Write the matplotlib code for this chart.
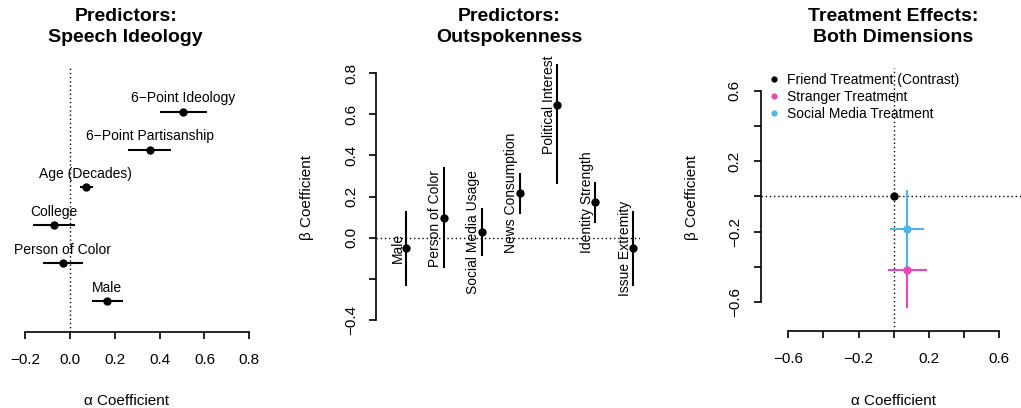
import numpy as np
import matplotlib
matplotlib.use("Agg")
import matplotlib.pyplot as plt
from matplotlib.lines import Line2D

plt.rcParams["font.family"] = ["Liberation Sans", "DejaVu Sans"]

# speech ideology predictors (alpha), listed top to bottom
ideo_names = ["6\u2212Point Ideology", "6\u2212Point Partisanship", "Age (Decades)",
              "College", "Person of Color", "Male"]
ideo_est = [0.506, 0.356, 0.071, -0.071, -0.033, 0.164]
ideo_lo = [0.400, 0.260, 0.045, -0.164, -0.122, 0.097]
ideo_hi = [0.610, 0.450, 0.104, 0.024, 0.060, 0.235]

# outspokenness predictors (beta), left to right
out_names = ["Male", "Person of Color", "Social Media Usage", "News Consumption",
             "Political Interest", "Identity Strength", "Issue Extremity"]
out_est = [-0.052, 0.094, 0.026, 0.216, 0.647, 0.172, -0.052]
out_lo = [-0.233, -0.149, -0.089, 0.114, 0.260, 0.073, -0.233]
out_hi = [0.130, 0.342, 0.143, 0.316, 0.845, 0.272, 0.130]

# treatment effects on both dimensions (friend treatment is the contrast)
treat_names = ["Friend Treatment (Contrast)", "Stranger Treatment", "Social Media Treatment"]
treat_colors = ["black", "#E64BB4", "#4FB4E6"]
treat_alpha = [0.0, 0.077, 0.077]
treat_alpha_lo = [np.nan, -0.035, -0.022]
treat_alpha_hi = [np.nan, 0.190, 0.171]
treat_beta = [0.0, -0.419, -0.185]
treat_beta_lo = [np.nan, -0.630, -0.400]
treat_beta_hi = [np.nan, -0.220, 0.035]

alpha_ticks = [-0.2, 0.0, 0.2, 0.4, 0.6, 0.8]
beta_ticks = [-0.4, -0.2, 0.0, 0.2, 0.4, 0.6, 0.8]
treat_ticks = [-0.6, -0.4, -0.2, 0.0, 0.2, 0.4, 0.6]

W, H = 1021, 408
DOTS = (0, (1, 2))
fig = plt.figure(figsize=(W / 100, H / 100), dpi=100)


def add_panel(left, top, right, bottom):
    return fig.add_axes([left / W, 1 - bottom / H, (right - left) / W, (bottom - top) / H])


def fmt(v):
    return f"{v:.1f}".replace("-", "\u2212")


def style(ax, keep):
    for side in ["top", "right", "left", "bottom"]:
        ax.spines[side].set_visible(side in keep)
        ax.spines[side].set_linewidth(1.2)
    ax.tick_params(direction="out", length=5.3, width=1.2, labelsize=11)
    ax.patch.set_alpha(0)


# ---- speech ideology
ax1 = add_panel(14, 68, 256, 331.5)
ypos = np.arange(1, len(ideo_names) + 1)
ax1.axvline(0, color="black", lw=1, ls=DOTS)
ax1.hlines(ypos, ideo_lo, ideo_hi, color="black", lw=1.5)
ax1.plot(ideo_est, ypos, "o", color="black", ms=5)
for name, x, y in zip(ideo_names, ideo_est, ypos):
    ax1.annotate(name, (x, y), xytext=(0, 6.7), textcoords="offset points",
                 ha="center", va="baseline", fontsize=10)
ax1.set_xlim(-0.25, 0.830)
ax1.set_ylim(6.80, -0.153)
ax1.set_xticks(alpha_ticks, [fmt(v) for v in alpha_ticks])
ax1.set_yticks([])
style(ax1, ["bottom"])
ax1.spines["bottom"].set_bounds(-0.2, 0.8)
ax1.tick_params(axis="x", pad=10)

# ---- outspokenness
ax2 = add_panel(376, 62, 640, 332)
xpos = np.arange(1, len(out_names) + 1)
ax2.axhline(0, color="black", lw=1, ls=DOTS)
ax2.vlines(xpos, out_lo, out_hi, color="black", lw=1.5)
ax2.plot(xpos, out_est, "o", color="black", ms=5)
for name, x, y in zip(out_names, xpos, out_est):
    ax2.annotate(name, (x, y), xytext=(-3.2, 0), textcoords="offset points",
                 rotation=90, rotation_mode="anchor", ha="center", va="baseline", fontsize=10)
ax2.set_xlim(0.207, 7.185)
ax2.set_ylim(-0.4587, 0.8546)
ax2.set_yticks(beta_ticks, ["" if v == -0.2 else fmt(v) for v in beta_ticks])
ax2.set_xticks([])
style(ax2, ["left"])
ax2.spines["left"].set_bounds(-0.4, 0.8)
ax2.tick_params(axis="y", pad=7.5)
for lab in ax2.get_yticklabels():
    lab.set_rotation(90)
    lab.set_va("center")

# ---- treatment effects
ax3 = add_panel(761, 68, 1026, 331)
ax3.axvline(0, color="black", lw=1, ls=DOTS)
ax3.axhline(0, color="black", lw=1, ls=DOTS)
for i in range(1, len(treat_names)):
    c = treat_colors[i]
    ax3.hlines(treat_beta[i], treat_alpha_lo[i], treat_alpha_hi[i], color=c, lw=1.5)
    ax3.vlines(treat_alpha[i], treat_beta_lo[i], treat_beta_hi[i], color=c, lw=1.5)
for i in range(len(treat_names)):
    ax3.plot(treat_alpha[i], treat_beta[i], "o", color=treat_colors[i], ms=5)
ax3.set_xlim(-0.7554, 0.752)
ax3.set_ylim(-0.763, 0.728)
labels3 = [fmt(v) if k % 2 == 0 else "" for k, v in enumerate(treat_ticks)]
ax3.set_xticks(treat_ticks, labels3)
ax3.set_yticks(treat_ticks, labels3)
style(ax3, ["left", "bottom"])
ax3.spines["left"].set_bounds(-0.6, 0.6)
ax3.spines["bottom"].set_bounds(-0.6, 0.6)
ax3.tick_params(axis="x", pad=10)
ax3.tick_params(axis="y", pad=8.5)
for lab in ax3.get_yticklabels():
    lab.set_rotation(90)
    lab.set_va("center")

handles = [Line2D([], [], marker="o", ls="none", color=c, ms=3.5) for c in treat_colors]
ax3.legend(handles, treat_names, loc="upper left",
           bbox_to_anchor=(768.8 / W, 1 - 73 / H), bbox_transform=fig.transFigure,
           frameon=False, fontsize=10, handlelength=0.8, handletextpad=0.5,
           labelspacing=0.2, borderpad=0, borderaxespad=0)

# ---- titles and axis labels
titles = ["Predictors:\nSpeech Ideology", "Predictors:\nOutspokenness",
          "Treatment Effects:\nBoth Dimensions"]
for x, t in zip([125.7, 509.3, 893.3], titles):
    fig.text(x / W, 1 - 27 / H, t, ha="center", va="center", fontsize=14,
             fontweight="bold", linespacing=1.3)
for x in [126.7, 893.3]:
    fig.text(x / W, 1 - 405 / H, "\u03b1 Coefficient", ha="center", va="baseline", fontsize=11)
for x in [306.7, 691.7]:
    fig.text(x / W, 1 - 197 / H, "\u03b2 Coefficient", ha="center", va="center",
             rotation=90, fontsize=11)

fig.savefig("out.png", dpi=100)
